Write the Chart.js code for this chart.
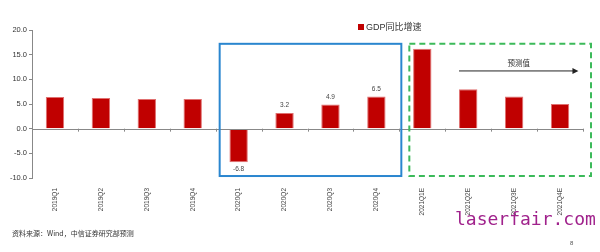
<!DOCTYPE html>
<html><head><meta charset="utf-8">
<script src="https://cdn.jsdelivr.net/npm/chart.js@4/dist/chart.umd.min.js"></script>
<style>
html,body{margin:0;padding:0;background:#fff;}
#wrap{position:relative;width:600px;height:252px;overflow:hidden;font-family:"Liberation Sans","Noto Sans CJK SC",sans-serif;}
canvas{position:absolute;left:0;top:0;}
.t{position:absolute;white-space:nowrap;}
</style></head>
<body><div id="wrap">
<canvas id="c" width="600" height="252"></canvas>
<div class="t" style="left:358px;top:20px;font-size:9px;color:#333;"><span style="display:inline-block;width:6px;height:6px;background:#c00000;margin-right:2px;vertical-align:0px;"></span>GDP同比增速</div>
<div class="t" style="left:12px;top:228px;font-size:7px;color:#333;font-family:'Noto Sans CJK SC',sans-serif;">资料来源：Wind，中信证券研究部预测</div>
<div class="t" style="left:570px;top:240px;font-size:6px;color:#555;">8</div>
<div class="t" style="left:455px;top:208px;font-size:18px;color:#a0228c;font-family:'DejaVu Sans Mono',monospace;">laserfair.com</div>
</div>
<script>
const categories = ["2019Q1","2019Q2","2019Q3","2019Q4","2020Q1","2020Q2","2020Q3","2020Q4","2021Q1E","2021Q2E","2021Q3E","2021Q4E"];
const gdpGrowth = [6.4, 6.2, 6.0, 6.0, -6.8, 3.2, 4.9, 6.5, 16.2, 8.0, 6.5, 5.0];
const labelledIdx = [4, 5, 6, 7];
const yTicks = [-10, -5, 0, 5, 10, 15, 20];

const overlay = {
  id: 'overlay',
  afterDatasetsDraw(chart) {
    const ctx = chart.ctx, x = chart.scales.x, y = chart.scales.y;
    const y0 = y.getPixelForValue(0);
    ctx.save();
    ctx.strokeStyle = '#888'; ctx.lineWidth = 1;
    ctx.beginPath(); ctx.moveTo(chart.chartArea.left, Math.round(y0)+0.5); ctx.lineTo(chart.chartArea.right, Math.round(y0)+0.5); ctx.stroke();
    for (let i = 1; i <= categories.length; i++) {
      const px = Math.round(x.getPixelForValue(i - 0.5)) + 0.5;
      ctx.beginPath(); ctx.moveTo(px, y0); ctx.lineTo(px, y0 + 3); ctx.stroke();
    }
    ctx.fillStyle = '#444'; ctx.font = '6.5px "Liberation Sans", sans-serif'; ctx.textAlign = 'center';
    labelledIdx.forEach(i => {
      const v = gdpGrowth[i];
      const px = x.getPixelForValue(i), py = y.getPixelForValue(v);
      if (v >= 0) { ctx.textBaseline = 'bottom'; ctx.fillText(v.toFixed(1), px, py - 4); }
      else { ctx.textBaseline = 'top'; ctx.fillText(v.toFixed(1), px, py + 4); }
    });
    const top = y.getPixelForValue(17.2), bot = y.getPixelForValue(-9.6);
    const bl = x.getPixelForValue(3.5) + 4, br = x.getPixelForValue(7.5) + 2;
    ctx.strokeStyle = '#2a86cf'; ctx.lineWidth = 2;
    ctx.strokeRect(bl, top, br - bl, bot - top);
    const gl = x.getPixelForValue(7.5) + 10, gr = x.getPixelForValue(11.5) + 8;
    ctx.strokeStyle = '#3cba5a'; ctx.setLineDash([6, 4]);
    ctx.strokeRect(gl, top, gr - gl, bot - top);
    ctx.setLineDash([]);
    const ay = y.getPixelForValue(11.7);
    const ax1 = x.getPixelForValue(8.8), ax2 = x.getPixelForValue(11.4);
    ctx.strokeStyle = '#222'; ctx.lineWidth = 1;
    ctx.beginPath(); ctx.moveTo(ax1, ay); ctx.lineTo(ax2 - 4, ay); ctx.stroke();
    ctx.fillStyle = '#222';
    ctx.beginPath(); ctx.moveTo(ax2, ay); ctx.lineTo(ax2 - 6, ay - 3); ctx.lineTo(ax2 - 6, ay + 3); ctx.closePath(); ctx.fill();
    ctx.fillStyle = '#333'; ctx.font = '7.5px "Noto Sans CJK SC", sans-serif';
    ctx.textAlign = 'center'; ctx.textBaseline = 'bottom';
    ctx.fillText('预测值', (ax1 + ax2) / 2, ay - 4);
    ctx.restore();
  }
};

new Chart(document.getElementById('c'), {
  type: 'bar',
  data: { labels: categories, datasets: [{ label: 'GDP同比增速', data: gdpGrowth, backgroundColor: '#c00000', borderColor: '#e07070', borderWidth: 1, categoryPercentage: 1, barPercentage: 0.4 }] },
  options: {
    responsive: false, animation: false, devicePixelRatio: 1,
    layout: { padding: { top: 30, right: 17, left: 0, bottom: 0 } },
    plugins: { legend: { display: false }, tooltip: { enabled: false } },
    scales: {
      x: {
        grid: { display: false }, border: { display: false },
        ticks: { minRotation: 90, maxRotation: 90, autoSkip: false, padding: 2, color: '#444', font: { size: 6.5, family: 'Liberation Sans' } },
        afterFit(s) { s.height = 74; }
      },
      y: {
        min: -10, max: 20,
        afterBuildTicks(s) { s.ticks = yTicks.map(v => ({ value: v })); },
        grid: { drawOnChartArea: false, drawTicks: true, tickLength: 3, color: '#888' },
        border: { display: true, color: '#888' },
        ticks: { padding: 2, color: '#333', font: { size: 7.5, family: 'Liberation Sans' }, callback: v => Number(v).toFixed(1) },
        afterFit(s) { s.width = 32; }
      }
    }
  },
  plugins: [overlay]
});
</script>
</body></html>
